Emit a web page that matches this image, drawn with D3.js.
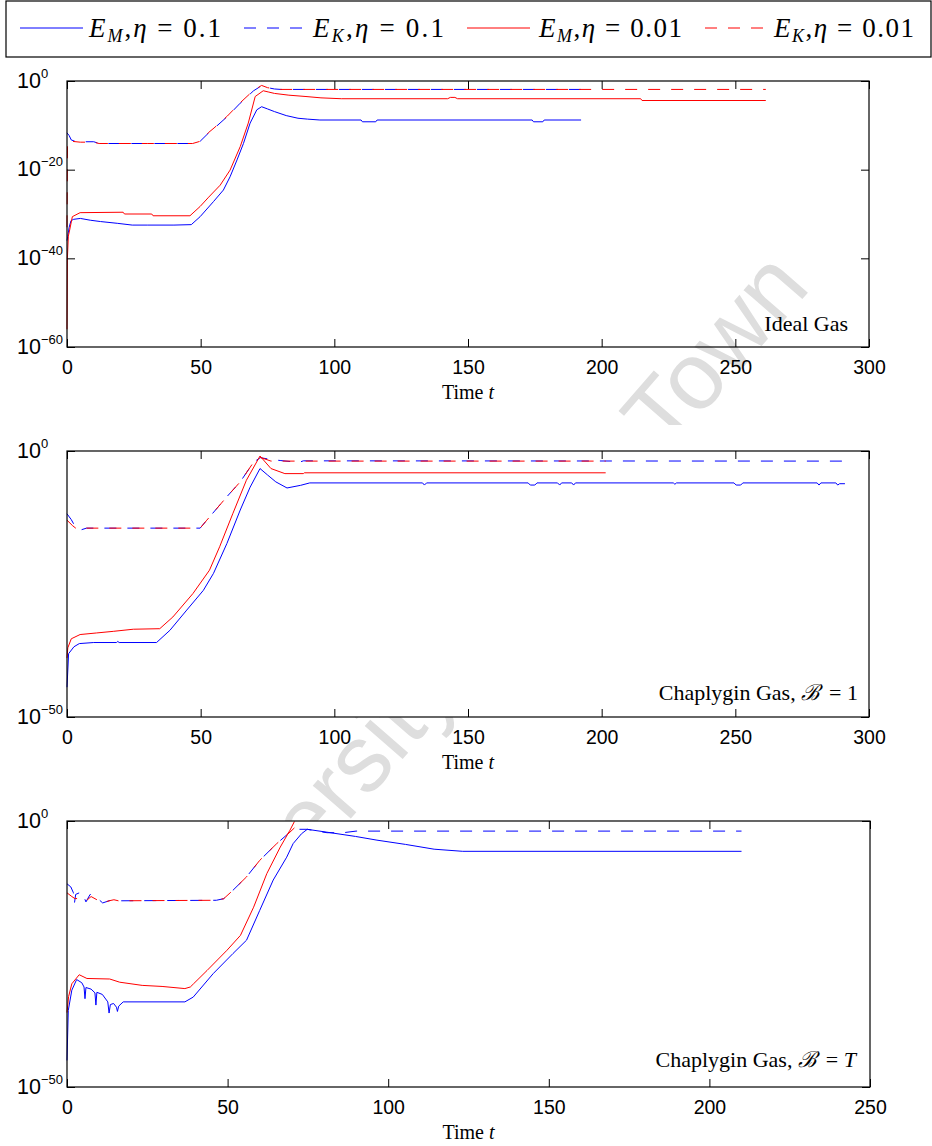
<!DOCTYPE html>
<html>
<head>
<meta charset="utf-8">
<script src="https://cdn.jsdelivr.net/npm/d3@7"></script>
<style>
body { margin: 0; background: #fff; }
svg text { font-family: "Liberation Sans", Arial, sans-serif; }
svg text.serif { font-family: "Liberation Serif", "Times New Roman", serif; }
</style>
</head>
<body>
<div id="chart"></div>
<script>
// ---- data: time t and log10(energy) ----
// Ideal gas
var idealEmBlueT = [0, 0.3, 0.8, 1.5, 2.5, 5, 8.7, 12.5, 18.8, 24.4, 30, 40, 46.5, 49.8, 54.8, 58.5, 61, 63.6, 66, 68.5, 71, 72.8, 75, 77.6, 82, 86.4, 90, 94.6, 110, 110.5, 115.5, 116, 174, 174.5, 178, 178.5, 192.3];
var idealEmBlueLog = [-36, -35, -33, -31.5, -31.2, -31.0, -31.4, -31.7, -32.1, -32.5, -32.5, -32.5, -32.4, -30.6, -27.2, -24.6, -21.6, -17.8, -14.1, -9.5, -6.5, -5.8, -6.3, -6.9, -7.8, -8.4, -8.6, -8.8, -8.8, -9.2, -9.2, -8.8, -8.8, -9.2, -9.2, -8.8, -8.8];
var idealEkBlueT = [0, 0.8, 1.6, 3, 5, 10, 12, 30, 47, 49.8, 53, 55, 60, 64.8, 69.8, 72.8, 75, 77.6, 80, 192.3];
var idealEkBlueLog = [-11.7, -12.3, -13.3, -13.6, -13.7, -13.7, -14.1, -14.1, -14.1, -13.6, -11.7, -10.7, -8.0, -5.0, -2.2, -1.06, -1.5, -1.8, -1.9, -1.9];
var idealEmRedT = [0, 0.15, 0.5, 1, 2, 4.9, 21, 21.5, 31.7, 32.2, 46, 49.8, 53, 57.3, 61, 64.8, 67.8, 70.4, 73.4, 75.5, 77.6, 83, 89.4, 95, 102.6, 142.4, 143.4, 145.1, 146.1, 214.6, 215.1, 261.4];
var idealEmRedLog = [-56, -40, -35, -33.6, -30.6, -29.7, -29.6, -30.0, -30.0, -30.4, -30.4, -28.3, -26.2, -23.5, -20.1, -14.8, -9.5, -3.5, -2.2, -2.5, -2.8, -3.2, -3.5, -3.8, -4.0, -4.0, -3.7, -3.7, -4.0, -4.0, -4.4, -4.4];
var idealEkRedT = [0, 0.2, 1.6, 5, 10, 12, 30, 47, 49.8, 53, 55, 60, 64.8, 69.8, 72.8, 75, 77.6, 80, 261.4];
var idealEkRedLog = [-33, -13.5, -13.6, -13.8, -13.8, -14.1, -14.1, -14.1, -13.6, -11.6, -10.6, -7.9, -4.9, -2.1, -1.0, -1.5, -1.8, -1.9, -1.9];

// Chaplygin gas, B = 1
var chap1EmBlueT = [0, 0.6, 2.6, 4.6, 10, 18.5, 19, 19.5, 33.5, 38.5, 44.8, 51, 54.8, 59.8, 64.8, 68.5, 72.2, 75, 78.1, 82.3, 87.4, 90.8, 133, 133.7, 134.5, 172.5, 173.3, 175, 175.8, 183.5, 184.3, 185, 188.8, 189.5, 190.2, 226.8, 227.4, 228, 249.5, 250.3, 252, 252.8, 280.6, 281.3, 282, 287.6, 288.3, 289, 291];
var chap1EmBlueLog = [-44.4, -38.1, -36.8, -36.2, -36.0, -36.0, -35.8, -36.0, -36.0, -33.7, -29.9, -26.2, -23.0, -17.4, -11.1, -6.8, -3.3, -4.5, -5.8, -6.95, -6.45, -6.0, -6.0, -6.4, -6.0, -6.0, -6.4, -6.4, -6.0, -6.0, -6.4, -6.0, -6.0, -6.4, -6.0, -6.0, -6.25, -6.0, -6.0, -6.4, -6.4, -6.0, -6.0, -6.4, -6.0, -6.0, -6.4, -6.15, -6.15];
var chap1EkBlueT = [0, 1.6, 3.5, 5.4, 7.3, 49.8, 52.3, 59.8, 64.8, 69.8, 72.3, 76.3, 80, 84, 87, 88.4, 291];
var chap1EkBlueLog = [-11.8, -12.9, -14.6, -14.8, -14.5, -14.5, -13.0, -8.6, -5.8, -2.1, -1.25, -1.6, -1.8, -2.0, -2.1, -1.85, -1.9];
var chap1EmRedT = [0, 0.3, 1.6, 4.9, 11.1, 17.3, 24.8, 34.7, 39.6, 47.1, 53.3, 57.1, 62, 67.1, 72.2, 76.3, 81.5, 88.4, 88.8, 201.5];
var chap1EmRedLog = [-38.9, -37, -35.3, -34.5, -34.2, -33.9, -33.5, -33.4, -31.2, -26.8, -22.4, -18.0, -11.8, -5.5, -0.94, -3.3, -4.25, -4.25, -4.1, -4.1];
var chap1EkRedT = [0, 2, 3.5, 5.4, 7.3, 49.8, 52.3, 59.8, 64.8, 69.8, 72.3, 76.3, 80, 201.5];
var chap1EkRedLog = [-13, -14, -14.6, -14.8, -14.5, -14.5, -13.0, -8.6, -5.8, -2.1, -1.2, -1.9, -1.9, -1.9];

// Chaplygin gas, B = T
var chapTEmBlueT = [0, 0.4, 1.5, 3.0, 4.6, 5.3, 5.6, 5.9, 7.5, 8.7, 9.0, 9.3, 11, 12.7, 13.1, 13.5, 14.5, 15.4, 15.7, 16.1, 17.5, 36.7, 39.3, 45.5, 51.7, 55.9, 60, 64.2, 68.4, 70.4, 73, 74.8, 80.9, 89.8, 96.5, 105.4, 114.3, 123.2, 210];
var chapTEmBlueLog = [-45, -35.6, -31.8, -29.8, -30.4, -31.2, -33.4, -31.3, -31.6, -32.3, -34.6, -32.2, -32.6, -34.0, -36.1, -34.5, -34.3, -35.0, -35.8, -34.8, -34.0, -34.0, -33.1, -28.7, -24.9, -22.4, -16.8, -11.1, -6.8, -4.25, -2.4, -1.56, -2.1, -2.9, -3.6, -4.4, -5.3, -5.7, -5.7];
var chapTEkBlueT = [0, 1.2, 2.0, 2.3, 2.7, 4.6, 5.9, 7.2, 8.5, 11.1, 13.1, 14.6, 16, 46.5, 48.8, 51.7, 55.9, 60, 65.3, 69.4, 71, 74.8, 78.7, 81, 86, 90, 210];
var chapTEkBlueLog = [-11.8, -12.4, -13.5, -15.5, -13.8, -13.3, -15.2, -13.8, -14.0, -15.4, -15.0, -14.8, -15.0, -14.9, -14.6, -13.0, -10.5, -7.4, -4.25, -2.1, -1.56, -1.56, -2.0, -2.2, -2.2, -1.9, -1.9];
var chapTEmRedT = [0, 0.5, 1.5, 3.8, 6.2, 13.3, 16.4, 23.4, 29.6, 36.7, 38.4, 39.4, 43.6, 49.8, 54, 58.1, 62.2, 66.4, 69.4, 70.8];
var chapTEmRedLog = [-36, -33, -30.6, -28.9, -29.6, -29.7, -30.3, -30.9, -31.1, -31.5, -31.2, -30.6, -28.1, -24.3, -21.5, -16.2, -9.9, -4.9, -1.75, -0.1];
var chapTEkRedT = [0, 1.5, 2.5, 4.6, 6, 7.5, 11.1, 13.1, 14.6, 16, 46.5, 48.8, 51.7, 55.9, 60, 65.3, 69.4, 70.8];
var chapTEkRedLog = [-13.5, -14.2, -14.6, -14.5, -15.0, -14.2, -15.4, -15.0, -14.8, -15.0, -14.9, -14.6, -13.0, -10.5, -7.4, -4.25, -2.1, -1.3];

var seriesNames = ["EM, eta=0.1", "EK, eta=0.1", "EM, eta=0.01", "EK, eta=0.01"];
var etaLabels = ["0.1", "0.1", "0.01", "0.01"];
var subLabels = ["M", "K", "M", "K"];
var panelTitles = ["Ideal Gas", "Chaplygin Gas, ", "Chaplygin Gas, "];
var xTicks300 = [0, 50, 100, 150, 200, 250, 300];
var xTicks250 = [0, 50, 100, 150, 200, 250];

var W = 932, H = 1146;
var blue = "#0000ff", red = "#ff0000";
var styles = [
  {color: blue, dash: null},
  {color: blue, dash: "12,11"},
  {color: red, dash: null},
  {color: red, dash: "12,11"}
];

var svg = d3.select("#chart").append("svg")
    .attr("width", W)
    .attr("height", H);

// watermark sits behind everything
var wm = svg.append("text")
    .attr("transform", "translate(812,288) rotate(-49)")
    .attr("text-anchor", "end")
    .attr("font-size", 95)
    .attr("fill", "#dedede");
wm.append("tspan").text("University");
wm.append("tspan").attr("letter-spacing", -8).text(" of Cape ");
wm.append("tspan").text("Town");

function toPoints(ts, logs) {
    return ts.map(function(t, i) { return {t: t, v: Math.pow(10, logs[i])}; });
}

function drawPanel(p) {
    var w = p.width, h = p.height;
    var g = svg.append("g").attr("transform", "translate(" + p.left + "," + p.top + ")");

    var x = d3.scaleLinear().domain(p.xDomain).range([0, w]);
    var y = d3.scaleLog().domain(p.yDomain).range([h, 0]);

    if (p.fill) {
        g.append("rect").attr("y", -p.padTop).attr("width", w).attr("height", h + p.padTop).attr("fill", "#fff");
    }

    var line = d3.line()
        .x(function(d) { return x(d.t); })
        .y(function(d) { return y(d.v); });

    p.series.forEach(function(s, i) {
        g.append("path")
            .datum(toPoints(s[0], s[1]))
            .attr("fill", "none")
            .attr("stroke", styles[i].color)
            .attr("stroke-width", 1)
            .attr("stroke-dasharray", styles[i].dash)
            .attr("d", line);
    });

    // inward ticks on all four sides
    var xb = g.append("g").attr("transform", "translate(0," + h + ")")
        .call(d3.axisBottom(x).tickValues(p.xTicks).tickSizeInner(-8).tickSizeOuter(0).tickPadding(13));
    xb.selectAll("text").attr("font-size", 19.5).attr("fill", "#000").attr("font-family", "Liberation Sans, Arial, sans-serif");
    var xt = g.append("g")
        .call(d3.axisTop(x).tickValues(p.xTicks).tickSizeInner(-8).tickSizeOuter(0).tickFormat(""));
    var yl = g.append("g")
        .call(d3.axisLeft(y).tickValues(p.yTicks).tickSizeInner(-8).tickSizeOuter(0).tickFormat(""));
    var yr = g.append("g").attr("transform", "translate(" + w + ",0)")
        .call(d3.axisRight(y).tickValues(p.yTicks).tickSizeInner(-8).tickSizeOuter(0).tickFormat(""));
    [xb, xt, yl, yr].forEach(function(a) {
        a.select(".domain").remove();
        a.selectAll(".tick line").attr("stroke", "#000");
    });

    g.append("rect")
        .attr("width", w).attr("height", h)
        .attr("fill", "none").attr("stroke", "#000").attr("stroke-width", 1.2);

    // 10^n labels
    p.yTicks.forEach(function(v) {
        var e = Math.round(Math.log10(v));
        var t = g.append("text")
            .attr("x", -50)
            .attr("y", y(v) + 6.5)
            .attr("font-size", 21.5)
            .attr("fill", "#000");
        t.append("tspan").text("10");
        t.append("tspan").attr("dy", -10).attr("font-size", 13)
            .text(e === 0 ? "0" : "\u2212" + Math.abs(e));
    });

    // x label
    var xl = g.append("text").attr("class", "serif")
        .attr("x", w / 2).attr("y", h + 52)
        .attr("text-anchor", "middle")
        .attr("font-size", 20).attr("fill", "#000");
    xl.append("tspan").text("Time ");
    xl.append("tspan").attr("font-style", "italic").text("t");

    // panel annotation
    var an = g.append("text").attr("class", "serif")
        .attr("x", p.noteX - p.left).attr("y", h - p.noteDy)
        .attr("text-anchor", "end")
        .attr("font-size", 22).attr("fill", "#000");
    an.append("tspan").text(p.title);
    if (p.titleB) {
        an.append("tspan").attr("font-style", "italic").text("\u212C");
        an.append("tspan").text("\u2009 = ");
        an.append("tspan").attr("font-style", p.titleB === "T" ? "italic" : null).text(p.titleB);
    }
}

drawPanel({
    left: 67, top: 81, width: 802, height: 266, fill: false, padTop: 0,
    xDomain: [0, 300], xTicks: xTicks300,
    yDomain: [1e-60, 1], yTicks: [1, 1e-20, 1e-40, 1e-60],
    title: panelTitles[0], titleB: null, noteX: 848, noteDy: 16,
    series: [[idealEmBlueT, idealEmBlueLog], [idealEkBlueT, idealEkBlueLog],
             [idealEmRedT, idealEmRedLog], [idealEkRedT, idealEkRedLog]]
});
drawPanel({
    left: 67, top: 451, width: 802, height: 266, fill: true, padTop: 26,
    xDomain: [0, 300], xTicks: xTicks300,
    yDomain: [1e-50, 1], yTicks: [1, 1e-50],
    title: panelTitles[1], titleB: "1", noteX: 858, noteDy: 17,
    series: [[chap1EmBlueT, chap1EmBlueLog], [chap1EkBlueT, chap1EkBlueLog],
             [chap1EmRedT, chap1EmRedLog], [chap1EkRedT, chap1EkRedLog]]
});
drawPanel({
    left: 67, top: 821, width: 803, height: 266, fill: true, padTop: 0,
    xDomain: [0, 250], xTicks: xTicks250,
    yDomain: [1e-50, 1], yTicks: [1, 1e-50],
    title: panelTitles[2], titleB: "T", noteX: 856, noteDy: 20,
    series: [[chapTEmBlueT, chapTEmBlueLog], [chapTEkBlueT, chapTEkBlueLog],
             [chapTEmRedT, chapTEmRedLog], [chapTEkRedT, chapTEkRedLog]]
});

// legend box
var lg = svg.append("g");
lg.append("rect")
    .attr("x", 6).attr("y", 1).attr("width", 925).attr("height", 56)
    .attr("fill", "#fff").attr("stroke", "#000").attr("stroke-width", 1.2);
var lineStarts = [20, 244, 467, 705];
var textStarts = [89, 313, 539, 774];
var textWidths = [132, 131, 143, 140];
seriesNames.forEach(function(name, i) {
    lg.append("line")
        .attr("x1", lineStarts[i]).attr("x2", lineStarts[i] + 63)
        .attr("y1", 28).attr("y2", 28)
        .attr("stroke", styles[i].color).attr("stroke-width", 1)
        .attr("stroke-dasharray", styles[i].dash);
    var t = lg.append("text").attr("class", "serif")
        .attr("x", textStarts[i]).attr("y", 37)
        .attr("font-size", 27).attr("fill", "#000")
        .attr("textLength", textWidths[i]);
    t.append("tspan").attr("font-style", "italic").text("E");
    t.append("tspan").attr("font-style", "italic").attr("font-size", 18).attr("dy", 5).text(subLabels[i]);
    t.append("tspan").attr("dy", -5).text(",");
    t.append("tspan").attr("font-style", "italic").text("\u03B7");
    t.append("tspan").text(" = " + etaLabels[i]);
});
</script>
</body>
</html>
